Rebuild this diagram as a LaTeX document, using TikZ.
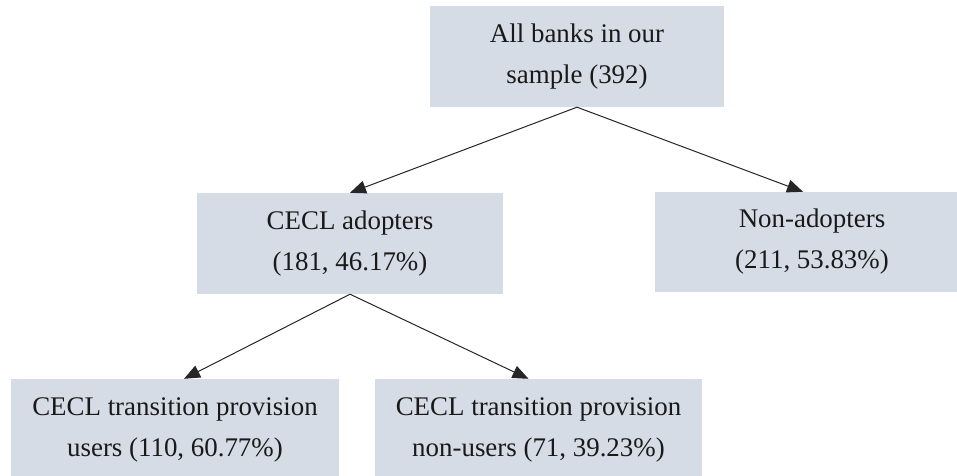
\documentclass[tikz,border=0pt]{standalone}
\usepackage{fontspec}
\setmainfont{Liberation Serif}
\usetikzlibrary{arrows.meta}
\definecolor{boxfill}{HTML}{D6DCE5}
\begin{document}
\begin{tikzpicture}[x=1pt,y=1pt,
  box/.style={fill=boxfill, draw=none, rectangle, align=center, inner sep=0pt,
    font=\fontsize{26.9}{41}\selectfont, text=black!90},
  conn/.style={draw=black!85, line width=1pt, -{Triangle[length=16pt,width=13pt]}}]
\clip (0,0) rectangle (957,475);
\node[box, minimum width=294, minimum height=101] (all) at (577,418.5) {All banks in our\\sample (392)};
\node[box, minimum width=306, minimum height=101] (adopt) at (350,231.5) {CECL adopters\\(181, 46.17\%)};
\node[box, minimum width=314, minimum height=100] (non) at (812,233) {Non-adopters\\(211, 53.83\%)};
\node[box, minimum width=328, minimum height=101] (users) at (175,45.5) {CECL transition provision\\users (110, 60.77\%)};
\node[box, minimum width=327, minimum height=101] (nonusers) at (538.5,45.5) {CECL transition provision\\non-users (71, 39.23\%)};
\draw[conn] (all.south) -- (adopt.north);
\draw[conn] (all.south) -- ([xshift=-9pt]non.north);
\draw[conn] (adopt.south) -- ([xshift=9pt]users.north);
\draw[conn] (adopt.south) -- ([xshift=-10pt]nonusers.north);
\end{tikzpicture}
\end{document}
